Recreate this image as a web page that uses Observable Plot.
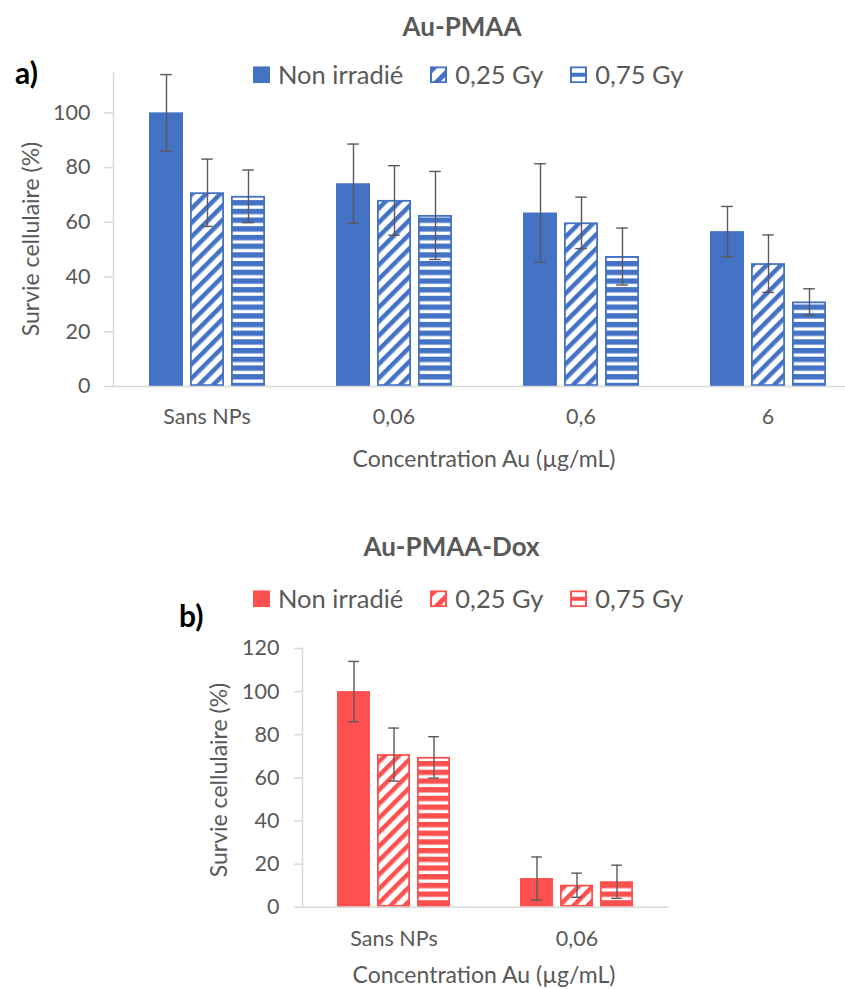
<!DOCTYPE html>
<html>
<head>
<meta charset="utf-8">
<script src="https://cdn.jsdelivr.net/npm/d3@7"></script>
<script src="https://cdn.jsdelivr.net/npm/@observablehq/plot@0.6"></script>
<style>
  html, body { margin: 0; padding: 0; background: #fff; }
  #page { position: relative; width: 845px; height: 989px; overflow: hidden; font-family: Lato, "Noto Sans", sans-serif; color: #595959; }
  .abs { position: absolute; white-space: nowrap; line-height: 1; }
  .c { transform: translate(-50%, -50%); }
  .title { font-weight: bold; font-size: 26px; }
  .panel { font-weight: bold; font-size: 30px; color: #000; }
  .axt { font-size: 23px; }
  .yt { transform: translate(-50%, -50%) rotate(-90deg); }
  .legend { display: flex; align-items: center; gap: 27px; transform: translateY(-50%); }
  .item { display: flex; align-items: center; gap: 8px; font-size: 25.5px; }
  .item svg { display: block; }
  .chart { position: absolute; left: 0; }
</style>
</head>
<body>
<svg width="0" height="0" style="position:absolute">
  <defs>
    <pattern id="blue-diag" patternUnits="userSpaceOnUse" width="10" height="10" patternTransform="rotate(45)">
      <rect width="10" height="10" fill="#fff"></rect>
      <rect width="4.5" height="10" fill="#4472C4"></rect>
    </pattern>
    <pattern id="blue-horz" patternUnits="userSpaceOnUse" width="10" height="8.7">
      <rect width="10" height="8.7" fill="#fff"></rect>
      <rect width="10" height="5.4" fill="#4472C4"></rect>
    </pattern>
    <pattern id="red-diag" patternUnits="userSpaceOnUse" width="10" height="10" patternTransform="rotate(45)">
      <rect width="10" height="10" fill="#fff"></rect>
      <rect width="4.5" height="10" fill="#FF5050"></rect>
    </pattern>
    <pattern id="red-horz" patternUnits="userSpaceOnUse" width="10" height="8.7">
      <rect width="10" height="8.7" fill="#fff"></rect>
      <rect width="10" height="5.4" fill="#FF5050"></rect>
    </pattern>
    <pattern id="blue-leg-diag" patternUnits="userSpaceOnUse" width="12" height="12" patternTransform="translate(2,0) rotate(45)">
      <rect width="12" height="12" fill="#fff"></rect>
      <rect width="5" height="12" fill="#4472C4"></rect>
    </pattern>
    <pattern id="red-leg-diag" patternUnits="userSpaceOnUse" width="12" height="12" patternTransform="translate(2,0) rotate(45)">
      <rect width="12" height="12" fill="#fff"></rect>
      <rect width="5" height="12" fill="#FF5050"></rect>
    </pattern>
  </defs>
</svg>
<div id="page"></div>
<script>
// ---------- Data ----------
const seriesNames = ["Non irradié", "0,25 Gy", "0,75 Gy"];

const categoriesA = ["Sans NPs", "0,06", "0,6", "6"];
const survieA_non = [100, 74.1, 63.4, 56.6];
const survieA_025 = [70.8, 68.0, 59.8, 44.9];
const survieA_075 = [69.5, 62.5, 47.5, 30.9];
const errA_non = [14, 14.5, 18, 9.2];
const errA_025 = [12.3, 12.7, 9.4, 10.5];
const errA_075 = [9.6, 16.1, 10.4, 4.8];
const yTicksA = [0, 20, 40, 60, 80, 100];

const categoriesB = ["Sans NPs", "0,06"];
const survieB_non = [100, 13.3];
const survieB_025 = [70.8, 10.2];
const survieB_075 = [69.5, 11.8];
const errB_non = [14, 10];
const errB_025 = [12.3, 5.6];
const errB_075 = [9.6, 7.7];
const yTicksB = [0, 20, 40, 60, 80, 100, 120];

const titleA = "Au-PMAA";
const titleB = "Au-PMAA-Dox";
const yTitle = "Survie cellulaire (%)";
const xTitle = "Concentration Au (µg/mL)";

function rowsOf(cats, vals, errs) {
  const rows = [];
  seriesNames.forEach((s, j) => cats.forEach((c, i) => rows.push({cat: c, series: s, v: vals[j][i], e: errs[j][i]})));
  return rows;
}
const rowsA = rowsOf(categoriesA, [survieA_non, survieA_025, survieA_075], [errA_non, errA_025, errA_075]);
const rowsB = rowsOf(categoriesB, [survieB_non, survieB_025, survieB_075], [errB_non, errB_025, errB_075]);

// ---------- Chart ----------
const AXIS = "#D9D9D9", ERR = "#595959";
function chart(o) {
  const bySeries = s => o.rows.filter(d => d.series === s);
  const common = {fx: "cat", x: "series", y: "v"};
  return Plot.plot({
    width: 845, height: o.height,
    marginLeft: o.mL, marginRight: o.mR, marginTop: o.mT, marginBottom: o.mB,
    style: {fontFamily: "Lato, 'Noto Sans', sans-serif", color: "#595959", background: "transparent"},
    fx: {domain: o.cats, padding: 0, axis: null, label: null},
    x: {domain: seriesNames, paddingInner: 0.18, paddingOuter: 0.86, axis: null},
    y: {domain: [0, o.yMax], axis: null},
    marks: [
      Plot.barY(bySeries(seriesNames[0]), {...common, fill: o.color}),
      Plot.barY(bySeries(seriesNames[1]), {...common, fill: `url(#${o.key}-diag)`, stroke: o.color, strokeWidth: 1.8, inset: 0.9}),
      Plot.barY(bySeries(seriesNames[2]), {...common, fill: `url(#${o.key}-horz)`, stroke: o.color, strokeWidth: 1.8, inset: 0.9}),
      Plot.ruleY([0], {stroke: AXIS, strokeWidth: 1.5}),
      Plot.ruleX(o.rows, {fx: "cat", x: "series", y1: d => d.v - d.e, y2: d => d.v + d.e, stroke: ERR, strokeWidth: 1.4}),
      Plot.tickY(o.rows, {fx: "cat", x: "series", y: d => d.v + d.e, stroke: ERR, strokeWidth: 1.4, insetLeft: 11.2, insetRight: 11.2}),
      Plot.tickY(o.rows, {fx: "cat", x: "series", y: d => d.v - d.e, stroke: ERR, strokeWidth: 1.4, insetLeft: 11.2, insetRight: 11.2}),
      Plot.frame({anchor: "left", facetAnchor: "left", stroke: AXIS, strokeWidth: 1.5}),
      Plot.axisY({ticks: o.ticks, tickSize: o.tickSize, tickPadding: o.tickPad, stroke: AXIS, strokeWidth: 1.5, fill: "#595959", fontSize: 21.5, label: null, tickFormat: d => String(d)}),
      Plot.axisFx({anchor: "bottom", tickSize: 0, tickPadding: o.fxPad, fill: "#595959", fontSize: 21.5, label: null})
    ]
  });
}

const page = document.getElementById("page");

const svgA = chart({rows: rowsA, cats: categoriesA, yMax: 114.5, ticks: yTicksA, height: 500,
  mL: 112, mR: -17, mT: 72.7, mB: 114, color: "#4472C4", key: "blue", tickSize: 9, tickPad: 14, fxPad: 22});
svgA.classList.add("chart"); svgA.style.top = "0px";
page.appendChild(svgA);

const svgB = chart({rows: rowsB, cats: categoriesB, yMax: 120, ticks: yTicksB, height: 489,
  mL: 301, mR: 177, mT: 148, mB: 82.3, color: "#FF5050", key: "red", tickSize: 8, tickPad: 15, fxPad: 24});
svgB.classList.add("chart"); svgB.style.top = "500px";
page.appendChild(svgB);

// ---------- Text & legends ----------
function addText(cls, text, x, y, extra) {
  const d = document.createElement("div");
  d.className = "abs " + cls;
  d.textContent = text;
  d.style.left = x + "px"; d.style.top = y + "px";
  if (extra) Object.assign(d.style, extra);
  page.appendChild(d);
  return d;
}
function swatch(kind, color, key) {
  const ns = "http://www.w3.org/2000/svg";
  const s = document.createElementNS(ns, "svg");
  s.setAttribute("width", 17); s.setAttribute("height", 17);
  const r = document.createElementNS(ns, "rect");
  if (kind === 0) {
    r.setAttribute("x", 0); r.setAttribute("y", 0); r.setAttribute("width", 17); r.setAttribute("height", 17);
    r.setAttribute("fill", color);
  } else {
    r.setAttribute("x", 1); r.setAttribute("y", 1); r.setAttribute("width", 15); r.setAttribute("height", 15);
    r.setAttribute("fill", kind === 1 ? `url(#${key}-leg-diag)` : "#fff");
    r.setAttribute("stroke", color); r.setAttribute("stroke-width", 2);
  }
  s.appendChild(r);
  if (kind === 2) {
    const l = document.createElementNS(ns, "rect");
    l.setAttribute("x", 1); l.setAttribute("y", 6.5); l.setAttribute("width", 15); l.setAttribute("height", 4);
    l.setAttribute("fill", color);
    s.appendChild(l);
  }
  return s;
}
function legend(x, y, color, key) {
  const lg = document.createElement("div");
  lg.className = "abs legend";
  lg.style.left = x + "px"; lg.style.top = y + "px";
  seriesNames.forEach((s, i) => {
    const it = document.createElement("div");
    it.className = "item";
    it.appendChild(swatch(i, color, key));
    const t = document.createElement("span"); t.textContent = s;
    it.appendChild(t);
    lg.appendChild(it);
  });
  page.appendChild(lg);
}

addText("c title", titleA, 462, 26);
addText("panel", "a)", 15, 57);
legend(253, 74.5, "#4472C4", "blue");
addText("yt axt", yTitle, 30, 239);
addText("c axt", xTitle, 484, 458);

addText("c title", titleB, 451.5, 546);
addText("panel", "b)", 179, 600);
legend(253, 599, "#FF5050", "red");
addText("yt axt", yTitle, 218, 780);
addText("c axt", xTitle, 484, 974);
</script>
</body>
</html>
